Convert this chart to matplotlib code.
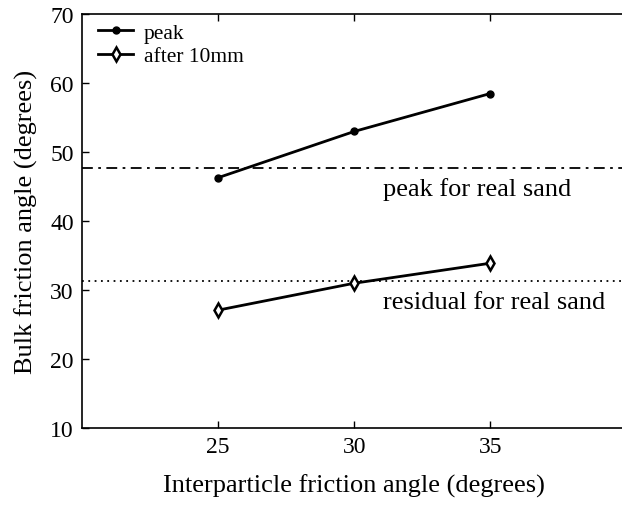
import matplotlib.pyplot as plt

# data
friction = [25, 30, 35]
peak = [46.3, 53.0, 58.5]
after_10mm = [27.1, 31.0, 33.9]
peak_real_sand = 47.7
residual_real_sand = 31.3

plt.rcParams['font.family'] = ['Liberation Serif', 'DejaVu Serif']

fig = plt.figure(figsize=(6.22, 5.06), dpi=100)
ax = fig.add_axes([0.132, 0.152, 0.875, 0.818])

ax.axhline(peak_real_sand, color='black', lw=1.3, ls=(0, (6, 3, 1.5, 3)))
ax.axhline(residual_real_sand, color='black', lw=1.3, ls=(0, (1, 2.5)))

ax.plot(friction, peak, color='black', lw=2, marker='o', ms=5, label='peak')
ax.plot(friction, after_10mm, color='black', lw=2, marker='d', ms=7,
        mfc='white', mew=1.8, label='after 10mm')

# labels for the reference lines (pixel positions)
ax.text(383, 506 - 190, 'peak for real sand', transform=None, fontsize=19,
        va='center', ha='left')
ax.text(383, 506 - 303, 'residual for real sand', transform=None, fontsize=19,
        va='center', ha='left')

ax.set_xlim(20, 40)
ax.set_ylim(10, 70)
ax.set_xticks([25, 30, 35])
ax.set_yticks(range(10, 71, 10))
ax.tick_params(direction='in', top=True, labelsize=17, length=5, width=1, pad=6)
ax.spines['right'].set_visible(False)
for s in ax.spines.values():
    s.set_linewidth(1.2)

ax.set_xlabel('Interparticle friction angle (degrees)', fontsize=19, labelpad=12)
ax.set_ylabel('Bulk friction angle (degrees)', fontsize=19, labelpad=9)

ax.legend(loc='upper left', bbox_to_anchor=(0.018, 0.995), frameon=False,
          fontsize=15.5, handlelength=1.6, handletextpad=0.5,
          borderaxespad=0.0, borderpad=0.3, labelspacing=0.15)

fig.savefig('out.png', dpi=100)
